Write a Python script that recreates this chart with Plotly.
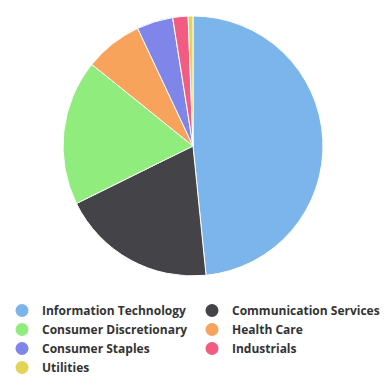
import plotly.graph_objects as go

categories = ["Information Technology", "Communication Services", "Consumer Discretionary",
              "Health Care", "Consumer Staples", "Industrials", "Utilities"]
values = [48.4, 19.3, 18.1, 7.2, 4.5, 1.9, 0.6]
colors = ["#7cb5ec", "#434348", "#90ed7d", "#f7a35c", "#8085e9", "#f15c80", "#e4d354"]

W, H = 392, 388
cx, cy, r = 193, 146, 130

fig = go.Figure()
fig.add_trace(go.Pie(
    labels=categories, values=values, sort=False, direction="clockwise", rotation=0,
    marker=dict(colors=colors, line=dict(color="#ffffff", width=1)),
    textinfo="none", showlegend=False, hoverinfo="label+percent",
    domain=dict(x=[(cx - r) / W, (cx + r) / W], y=[(H - cy - r) / H, (H - cy + r) / H]),
))
for i, (c, col) in enumerate(zip(categories, colors)):
    fig.add_trace(go.Scatter(x=[None], y=[None], mode="markers", name=c,
                             legend="legend" if i % 2 == 0 else "legend2",
                             marker=dict(symbol="circle", size=13, color=col)))

legend_font = dict(family="Open Sans", size=12, color="#333333", weight="bold")
fig.update_layout(
    width=W, height=H, margin=dict(l=0, r=0, t=0, b=0),
    paper_bgcolor="white", plot_bgcolor="white",
    xaxis=dict(visible=False), yaxis=dict(visible=False),
    legend=dict(orientation="v", x=2 / W, xanchor="left", y=(H - 296) / H, yanchor="top",
                font=legend_font, itemwidth=30, tracegroupgap=0),
    legend2=dict(orientation="v", x=192 / W, xanchor="left", y=(H - 296) / H, yanchor="top",
                 font=legend_font, itemwidth=30, tracegroupgap=0),
)
fig.write_html("out.html", config={"displayModeBar": False},
               post_script="document.body.style.margin='0px';")
